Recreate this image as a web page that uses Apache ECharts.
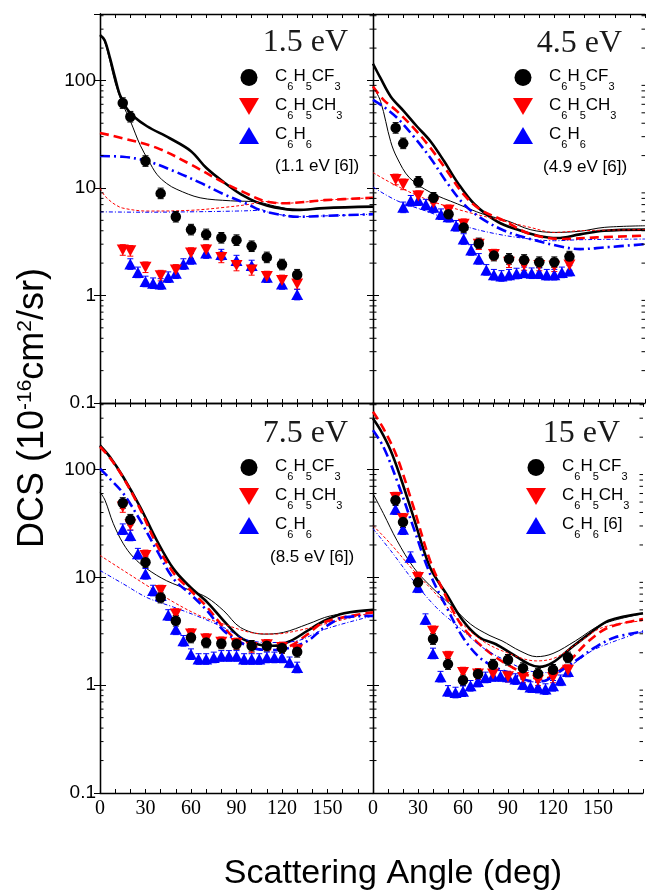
<!DOCTYPE html>
<html><head><meta charset="utf-8">
<script src="https://cdn.jsdelivr.net/npm/echarts@6/dist/echarts.min.js"></script>
<style>html,body{margin:0;padding:0;background:#fff}#c{width:646px;height:891px}</style>
</head><body><div id="c"></div>
<script>
// ---------- data (angle in deg, DCS in 1e-16 cm^2/sr) ----------
const ANG_EXP = [15, 20, 30, 40, 50, 60, 70, 80, 90, 100, 110, 120, 130];
const ANG_BZ_15 = [20, 25, 30, 35, 40, 45, 50, 55, 60, 70, 80, 90, 100, 110, 120, 130];
const ANG_BZ_5_20 = [20,25,30,35,40,45,50,55,60,65,70,75,80,85,90,95,100,105,110,115,120,125,130];
const ANG_BZ_5_15 = [15,20,25,30,35,40,45,50,55,60,65,70,75,80,85,90,95,100,105,110,115,120,125,130];
const REL_ERR = 0.12;
const MINOR_TICKS = [0.2,0.3,0.4,0.5,0.6,0.7,0.8,0.9,2,3,4,5,6,7,8,9,20,30,40,50,60,70,80,90,200,300,400];

// 1.5 eV
const E15_CF3 = [61.6, 46, 17.8, 8.9, 5.4, 4.1, 3.7, 3.44, 3.27, 2.87, 2.26, 1.94, 1.56];
const E15_CH3 = [2.65, 2.6, 1.83, 1.53, 1.73, 2.48, 2.65, 2.26, 1.9, 1.73, 1.5, 1.38, 1.28];
const E15_BZ  = [1.96, 1.64, 1.35, 1.30, 1.28, 1.48, 1.61, 1.96, 2.19, 2.48, 2.40, 2.11, 1.90, 1.48, 1.28, 1.02];
const E15_CF3_SMC = [[0,265],[3,238],[6.6,161],[10,105],[13,74],[17.6,55],[22,46.4],[31,37.5],[46,29],[60,22],[70,15.4],[82,11.2],[93,8.7],[104,7.3],[115,6.6],[130,6.25],[148,6.5],[180,6.7]];
const E15_CF3_SMC2 = [[0,265],[3,230],[6.6,150],[10,95],[15,60],[20,42],[26.5,25],[32,18],[37.5,13.4],[44,11],[50.7,9.7],[66,8.1],[86,7.6],[104,7.4],[115,6.8],[130,6.25],[148,6.5],[180,6.7]];
const E15_CH3_SMC = [[0,32.5],[15,29],[37.5,23.6],[59.6,16.6],[81.6,11.2],[95,9.1],[108,7.6],[121,7.2],[135,7.4],[148,7.7],[180,8.1]];
const E15_CH3_SMC2 = [[0,10],[3,8.5],[6.6,7.6],[10,7],[15,6.5],[31,6.1],[60,6.2],[82,6.6],[100,7.1],[108,7.5],[121,7.2],[135,7.4],[148,7.7],[180,8.1]];
const E15_BZ_SMC = [[0,19.8],[15,19.5],[31,17.8],[48.5,14.4],[66,11.2],[82,8.7],[97,7.1],[106,6.2],[117,5.7],[130,5.4],[148,5.5],[180,5.7]];
const E15_BZ_SMC2 = [[0,6.0],[30,5.95],[60,6.0],[90,6.1],[104,6.2],[106,6.3],[110,6.0],[117,5.7],[130,5.4],[148,5.5],[180,5.7]];

// 4.5 eV
const E45_CF3 = [36.2, 26, 11.4, 8.1, 5.7, 4.3, 3.05, 2.35, 2.19, 2.14, 2.04, 2.04, 2.3];
const E45_CH3 = [12.0, 10.8, 8.4, 7.3, 6.2, 4.6, 3.0, 2.4, 2.04, 1.92, 1.9, 1.87, 1.92];
const E45_BZ  = [6.6,7.6,7.7,7.0,6.6,5.7,5.4,4.45,3.35,2.65,2.19,1.73,1.56,1.52,1.56,1.6,1.64,1.61,1.61,1.56,1.56,1.64,1.7];
const E45_CF3_SMC = [[0,143],[5,105],[11.7,71],[20.5,51.6],[29,37.5],[38,27.2],[47,17.8],[56,11.2],[67,7.1],[82,4.9],[95.5,4.1],[109,3.6],[122,3.42],[137,3.7],[153,4.0],[180,4.1]];
const E45_CF3_SMC2 = [[0,88],[5,64],[11.7,27],[16,19],[24,12.5],[38,9.1],[56,7.1],[73,5.7],[89,4.94],[104,4.1],[120,3.86],[137,3.96],[153,4.3],[180,4.45]];
const E45_CH3_SMC = [[0,88],[7,66],[16,51.6],[27,36],[38,23.6],[49,14.4],[60,8.7],[71,6.3],[87,4.94],[104,3.73],[126,3.35],[148,3.47],[180,3.6]];
const E45_CH3_SMC2 = [[0,13.9],[16,10.4],[38,7.6],[60,6.1],[82,5.1],[104,4.3],[120,3.86],[137,4.0],[180,4.1]];
const E45_BZ_SMC = [[0,66],[7,57],[16,44.8],[27,30],[38,19],[49,11.2],[60,7.1],[71,5.3],[87,4.0],[104,3.35],[122,2.9],[137,2.7],[153,2.8],[180,3.0]];
const E45_BZ_SMC2 = [[0,10.2],[16,7.6],[38,5.9],[60,4.45],[82,3.73],[104,3.35],[120,3.23],[137,3.3],[180,3.35]];

// 7.5 eV
const E75_CF3 = [49, 34.3, 13.8, 6.5, 3.96, 2.77, 2.49, 2.44, 2.41, 2.32, 2.32, 2.21, 2.04];
const E75_CH3 = [45, 30.8, 16, 7.55, 4.57, 2.98, 2.68, 2.5, 2.44, 2.24, 2.37, 2.24, 2.12];
const E75_BZ  = [28,24.5,16.6,10.8,7.55,6.8,4.48,3.3,2.58,1.94,1.75,1.75,1.81,1.87,1.87,1.87,1.75,1.75,1.75,1.81,1.81,1.81,1.63,1.46];
const E75_CF3_SMC = [[0,168],[6.6,131],[15.4,85],[26.5,45],[37.5,22],[48.5,12],[59.6,8.1],[70.6,5.9],[81.6,3.96],[92.6,2.77],[103.7,2.4],[114.7,2.32],[125.7,2.58],[136.8,3.2],[148,3.96],[161,4.65],[180,5.0]];
const E75_CF3_SMC2 = [[0,62],[3.3,52],[8.8,31.5],[15.4,20.5],[22,15.4],[31,12],[44,9.3],[60,7.55],[70.6,6.5],[81.6,4.9],[92.6,3.43],[108,2.98],[121,3.09],[137,3.69],[152,4.4],[180,5.0]];
const E75_CH3_SMC = [[0,163],[6.6,128],[15.4,84],[26.5,43],[37.5,20],[48.5,11],[59.6,7.6],[70.6,5.3],[81.6,3.43],[92.6,2.5],[103.7,2.24],[114.7,2.16],[125.7,2.32],[137,2.98],[148,3.86],[180,4.74]];
const E75_CH3_SMC2 = [[0,16],[15.4,11.6],[31,8.4],[48.5,5.9],[66,4.4],[81.6,3.69],[99,3.09],[114.7,2.98],[130,3.2],[148,3.69],[180,4.74]];
const E75_BZ_SMC = [[0,102],[6.6,82],[15.4,60],[26.5,33.8],[37.5,17.8],[48.5,9.7],[59.6,7.0],[70.6,4.9],[81.6,3.2],[92.6,2.49],[103.7,2.16],[114.7,2.12],[125.7,2.24],[137,2.58],[148,3.43],[161,4.26],[180,4.4]];
const E75_BZ_SMC2 = [[0,11.6],[15.4,8.7],[31,6.5],[48.5,5.3],[66,4.27],[81.6,3.43],[99,2.58],[114.7,2.49],[130,2.58],[148,3.3],[180,4.4]];

// 15 eV
const E150_CF3 = [52, 32.6, 9.0, 2.68, 1.57, 1.11, 1.27, 1.55, 1.72, 1.44, 1.28, 1.39, 1.81];
const E150_CH3 = [55, 35, 10, 3.16, 1.84, 1.31, 1.27, 1.27, 1.2, 1.18, 1.11, 1.18, 1.38];
const E150_BZ  = [43,28,15.4,8.1,4.1,1.97,1.2,0.885,0.855,0.88,0.987,1.08,1.18,1.22,1.22,1.2,1.14,1.02,0.96,0.95,0.92,0.987,1.11,1.34];
const E150_CF3_SMC = [[0,298],[5,232],[11.7,151],[18.3,85],[27,36.3],[38,12.4],[49,7.0],[60,3.96],[71,2.77],[82,2.4],[93,1.94],[104,1.57],[111,1.48],[120,1.63],[131,2.16],[144,2.98],[157,3.96],[180,4.65]];
const E150_CF3_SMC2 = [[0,60],[7,39],[16,22],[27,12.4],[38,8.4],[51,5.7],[65,3.69],[78,2.88],[86,2.58],[98,2.08],[109,1.84],[120,1.97],[135,2.58],[153,3.69],[180,4.6]];
const E150_CH3_SMC = [[0,344],[7,240],[16,131],[27,45],[38,14.4],[49,6.5],[60,3.43],[71,2.4],[82,1.81],[93,1.46],[104,1.22],[111,1.14],[120,1.22],[131,1.68],[144,2.58],[157,3.43],[180,4.1]];
const E150_CH3_SMC2 = [[0,30.3],[11.7,20.5],[27,11.6],[42,7.0],[57.5,3.96],[73,2.58],[89,2.01],[109,1.68],[122,1.81],[137,2.49],[153,3.43],[180,3.96]];
const E150_BZ_SMC = [[0,232],[7,162],[16,79],[27,29],[38,10.8],[49,5.3],[60,2.77],[71,1.81],[82,1.46],[93,1.27],[104,1.1],[113,1.09],[122,1.27],[135,1.68],[148,2.24],[161,2.77],[180,3.15]];
const E150_BZ_SMC2 = [[0,28.3],[11.7,17.8],[27,9.3],[42,5.3],[57.5,3.43],[73,2.24],[89,1.68],[104,1.36],[117,1.31],[131,1.51],[148,2.16],[180,3.15]];

const PANEL_TITLES = ['1.5 eV', '4.5 eV', '7.5 eV', '15 eV'];
const X_TICK_LABELS = [0, 30, 60, 90, 120, 150];
const Y_TICK_LABELS = [0.1, 1, 10, 100];

// ---------- styling / layout ----------
const BLACK = '#000000', RED = '#ff0000', BLUE = '#0000ff';
const GRIDS = [
  {left: 100, top: 14, width: 273, height: 389},
  {left: 373, top: 14, width: 272, height: 389},
  {left: 100, top: 403, width: 273, height: 390},
  {left: 373, top: 403, width: 272, height: 390}
];
const YMIN = 0.1, YMAX = 415;

const panels = [
  {cf3: E15_CF3, ch3: E15_CH3, bz: E15_BZ, bzAng: ANG_BZ_15, bzName: 'C6H6',
   lines: [E15_CF3_SMC, E15_CF3_SMC2, E15_CH3_SMC, E15_CH3_SMC2, E15_BZ_SMC, E15_BZ_SMC2]},
  {cf3: E45_CF3, ch3: E45_CH3, bz: E45_BZ, bzAng: ANG_BZ_5_20, bzName: 'C6H6',
   lines: [E45_CF3_SMC, E45_CF3_SMC2, E45_CH3_SMC, E45_CH3_SMC2, E45_BZ_SMC, E45_BZ_SMC2]},
  {cf3: E75_CF3, ch3: E75_CH3, bz: E75_BZ, bzAng: ANG_BZ_5_15, bzName: 'C6H6',
   lines: [E75_CF3_SMC, E75_CF3_SMC2, E75_CH3_SMC, E75_CH3_SMC2, E75_BZ_SMC, E75_BZ_SMC2]},
  {cf3: E150_CF3, ch3: E150_CH3, bz: E150_BZ, bzAng: ANG_BZ_5_15, bzName: 'C6H6 [6]',
   lines: [E150_CF3_SMC, E150_CF3_SMC2, E150_CH3_SMC, E150_CH3_SMC2, E150_BZ_SMC, E150_BZ_SMC2]}
];

const LINE_STYLES = [
  {color: BLACK, width: 2.6, type: 'solid'},
  {color: BLACK, width: 1, type: 'solid'},
  {color: RED, width: 2.6, type: [9, 5]},
  {color: RED, width: 1, type: [3, 2]},
  {color: BLUE, width: 2.6, type: [10, 4, 2, 4]},
  {color: BLUE, width: 1, type: [4, 2, 1, 2]}
];

const DOWN_TRI = 'path://M0,0L20,0L10,17Z';
const UP_TRI = 'path://M10,0L20,17L0,17Z';

function errSeries(g, ang, vals, color) {
  return {
    type: 'custom', xAxisIndex: g, yAxisIndex: g, silent: true, z: 3, clip: false,
    data: ang.map((a, i) => [a, vals[i], vals[i] / (1 + REL_ERR), vals[i] * (1 + REL_ERR)]),
    encode: {x: 0, y: 1},
    renderItem: function (params, api) {
      const x = api.value(0);
      const lo = api.coord([x, api.value(2)]);
      const hi = api.coord([x, api.value(3)]);
      const st = {stroke: color, lineWidth: 1};
      return {type: 'group', children: [
        {type: 'line', shape: {x1: lo[0], y1: lo[1], x2: hi[0], y2: hi[1]}, style: st},
        {type: 'line', shape: {x1: lo[0] - 3, y1: lo[1], x2: lo[0] + 3, y2: lo[1]}, style: st},
        {type: 'line', shape: {x1: hi[0] - 3, y1: hi[1], x2: hi[0] + 3, y2: hi[1]}, style: st}
      ]};
    }
  };
}

function minorTickSeries(g) {
  return {
    type: 'custom', xAxisIndex: g, yAxisIndex: g, silent: true, z: 5, clip: false,
    data: MINOR_TICKS.map(v => [0, v]),
    encode: {x: 0, y: 1},
    renderItem: function (params, api) {
      const v = api.value(1);
      const l = api.coord([0, v]);
      const r = api.coord([180, v]);
      const st = {stroke: '#000', lineWidth: 1};
      return {type: 'group', children: [
        {type: 'line', shape: {x1: l[0], y1: l[1], x2: l[0] + 3.5, y2: l[1]}, style: st},
        {type: 'line', shape: {x1: r[0] - 3.5, y1: r[1], x2: r[0], y2: r[1]}, style: st}
      ]};
    }
  };
}

const series = [];
panels.forEach((p, g) => {
  p.lines.forEach((pts, k) => {
    const ls = LINE_STYLES[k];
    series.push({
      type: 'line', xAxisIndex: g, yAxisIndex: g, data: pts, smooth: 0.35,
      showSymbol: false, silent: true, z: 2,
      lineStyle: {color: ls.color, width: ls.width, type: ls.type}
    });
  });
  series.push(errSeries(g, ANG_EXP, p.cf3, BLACK));
  series.push(errSeries(g, ANG_EXP, p.ch3, RED));
  series.push(errSeries(g, p.bzAng, p.bz, BLUE));
  series.push({type: 'scatter', name: p.bzName, xAxisIndex: g, yAxisIndex: g, z: 4,
    symbol: 'triangle', symbolSize: [12, 11], itemStyle: {color: BLUE, opacity: 1},
    data: p.bzAng.map((a, i) => [a, p.bz[i]])});
  series.push({type: 'scatter', name: 'C6H5CH3', xAxisIndex: g, yAxisIndex: g, z: 4,
    symbol: 'triangle', symbolRotate: 180, symbolSize: [12, 11], itemStyle: {color: RED, opacity: 1},
    data: ANG_EXP.map((a, i) => [a, p.ch3[i]])});
  series.push({type: 'scatter', name: 'C6H5CF3', xAxisIndex: g, yAxisIndex: g, z: 4,
    symbol: 'circle', symbolSize: 10.5, itemStyle: {color: BLACK, opacity: 1},
    data: ANG_EXP.map((a, i) => [a, p.cf3[i]])});
  series.push(minorTickSeries(g));
});

const xAxes = [], yAxes = [];
for (let g = 0; g < 4; g++) {
  const bottomRow = g >= 2, leftCol = (g % 2) === 0;
  xAxes.push({
    gridIndex: g, type: 'value', min: 0, max: 180, interval: 10, position: 'bottom',
    axisLine: {lineStyle: {color: '#000', width: 1.3}},
    axisTick: {inside: true, length: 4, lineStyle: {color: '#000', width: 1}},
    splitLine: {show: false},
    axisLabel: {show: bottomRow, margin: 6, color: '#000', fontFamily: 'Liberation Serif', fontSize: 20,
      formatter: v => (X_TICK_LABELS.indexOf(v) >= 0 ? String(v) : '')}
  });
  yAxes.push({
    gridIndex: g, type: 'log', logBase: 10, min: YMIN, max: YMAX, position: 'left',
    axisLine: {show: true, lineStyle: {color: '#000', width: 1.3}},
    axisTick: {show: true, inside: true, length: 6, lineStyle: {color: '#000', width: 1}},
    splitLine: {show: false}, minorTick: {show: false},
    axisLabel: {show: leftCol, margin: 4, color: '#000', fontFamily: 'Liberation Sans', fontSize: 19,
      showMaxLabel: false,
      formatter: v => {
        const m = Y_TICK_LABELS.find(t => Math.abs(t - v) / t < 1e-6);
        return m === undefined ? '' : String(m);
      }}
  });
}
for (let g = 0; g < 4; g++) {
  xAxes.push({
    gridIndex: g, type: 'value', min: 0, max: 180, interval: 10, position: 'top',
    axisLine: {lineStyle: {color: '#000', width: 1.3}},
    axisTick: {inside: true, length: 4, lineStyle: {color: '#000', width: 1}},
    splitLine: {show: false}, axisLabel: {show: false}
  });
  yAxes.push({
    gridIndex: g, type: 'log', logBase: 10, min: YMIN, max: YMAX, position: 'right',
    axisLine: {show: true, lineStyle: {color: '#000', width: 1.3}},
    axisTick: {show: true, inside: true, length: 6, lineStyle: {color: '#000', width: 1}},
    splitLine: {show: false}, axisLabel: {show: false}
  });
}

const LEGEND_TEXT = {
  'C6H5CF3': '{n|C}{s|6}{n|H}{s|5}{n|CF}{s|3}',
  'C6H5CH3': '{n|C}{s|6}{n|H}{s|5}{n|CH}{s|3}',
  'C6H6': '{n|C}{s|6}{n|H}{s|6}',
  'C6H6 [6]': '{n|C}{s|6}{n|H}{s|6}{n| [6]}'
};
const LEGEND_POS = [[239, 68], [513, 68], [239, 458], [526, 458]];
const legends = panels.map((p, g) => ({
  orient: 'vertical', left: LEGEND_POS[g][0], top: LEGEND_POS[g][1], padding: 0,
  itemWidth: 42, itemHeight: 17, itemGap: 5, selectedMode: false,
  data: [{name: 'C6H5CF3', icon: 'circle'}, {name: 'C6H5CH3', icon: DOWN_TRI}, {name: p.bzName, icon: UP_TRI}],
  formatter: n => LEGEND_TEXT[n],
  textStyle: {color: '#000', fontFamily: 'Liberation Sans', fontSize: 17, padding: [5, 0, 0, 0],
    rich: {
      n: {fontFamily: 'Liberation Sans', fontSize: 17, color: '#000', verticalAlign: 'top', lineHeight: 24},
      s: {fontFamily: 'Liberation Sans', fontSize: 11, color: '#000', verticalAlign: 'bottom', lineHeight: 24}
    }}
}));

const TITLE_POS = [[348, 43], [622, 44], [348, 434], [620, 434]];
const graphics = PANEL_TITLES.map((t, g) => ({
  type: 'text', z: 10, style: {text: t, x: TITLE_POS[g][0], y: TITLE_POS[g][1], align: 'right', verticalAlign: 'middle',
    font: '32px "Liberation Serif"', fill: '#1a1a1a'}
}));
const NOTES = [['(1.1 eV [6])', 275, 166], ['(4.9 eV [6])', 543, 167], ['(8.5 eV [6])', 270, 557]];
NOTES.forEach(nt => graphics.push({type: 'text', z: 10,
  style: {text: nt[0], x: nt[1], y: nt[2], align: 'left', verticalAlign: 'middle', font: '17px "Liberation Sans"', fill: '#000'}}));
graphics.push({type: 'text', z: 10, x: 33, y: 408, rotation: Math.PI / 2,
  style: {text: '{n|DCS (10}{p|-16}{n|cm}{p|2}{n|/sr)}', align: 'center', verticalAlign: 'middle',
    rich: {
      n: {fontFamily: 'Liberation Sans', fontSize: 36, fill: '#000', verticalAlign: 'bottom', lineHeight: 37},
      p: {fontFamily: 'Liberation Sans', fontSize: 21, fill: '#000', verticalAlign: 'top', lineHeight: 37}
    }}});
graphics.push({type: 'text', z: 10,
  style: {text: 'Scattering Angle (deg)', x: 393, y: 874, align: 'center', verticalAlign: 'middle',
    font: '34px "Liberation Sans"', fill: '#000'}});

const chart = echarts.init(document.getElementById('c'), null, {renderer: 'canvas'});
chart.setOption({
  animation: false,
  backgroundColor: '#ffffff',
  grid: GRIDS.map(g => Object.assign({containLabel: false}, g)),
  xAxis: xAxes,
  yAxis: yAxes,
  legend: legends,
  graphic: graphics,
  series: series
});
</script></body></html>
